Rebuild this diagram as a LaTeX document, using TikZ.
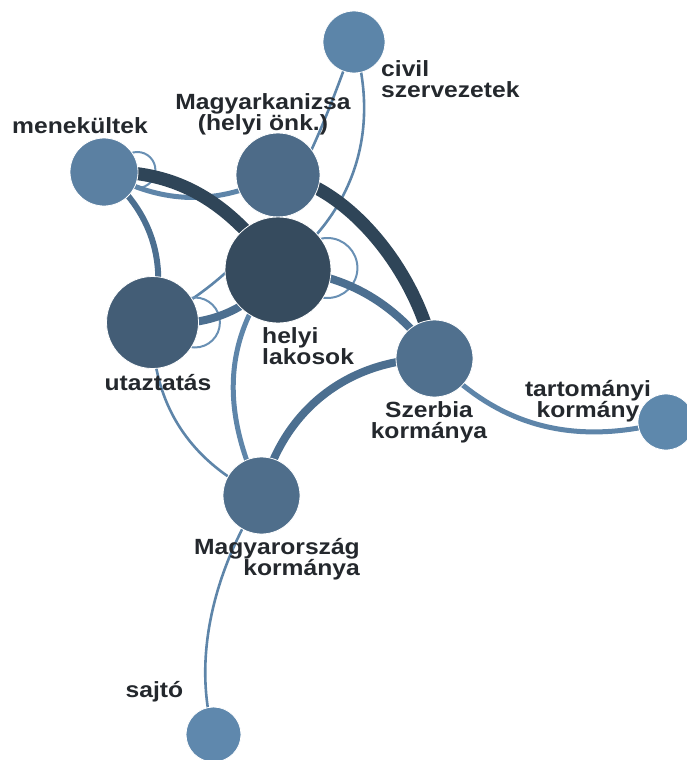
\documentclass[tikz,border=0pt]{standalone}
\usepackage{fontspec}
\setmainfont{Liberation Sans}[FakeStretch=1.12]
\usetikzlibrary{backgrounds}
\definecolor{edark}{HTML}{2F4558}
\definecolor{emed}{HTML}{4C6F90}
\definecolor{elight}{HTML}{5E85A9}
\definecolor{eloop}{HTML}{6990B4}
\definecolor{txt}{HTML}{24282D}
\definecolor{cHL}{HTML}{364B5E}
\definecolor{cUT}{HTML}{435D76}
\definecolor{cMK}{HTML}{4D6B88}
\definecolor{cSZ}{HTML}{50708E}
\definecolor{cMO}{HTML}{4F6E8B}
\definecolor{cME}{HTML}{5B80A2}
\definecolor{cCV}{HTML}{5C85A9}
\definecolor{cTK}{HTML}{5E88AC}
\definecolor{cSA}{HTML}{5F88AD}
\tikzset{
  nd/.style={circle, draw=white, line width=0.8pt, inner sep=0pt},
  lbl/.style={font=\fontsize{22}{21}\selectfont\bfseries, text=txt, inner sep=0pt},
  ethick/.style={draw=edark, line width=13pt},
  emedium/.style={draw=emed, line width=8pt},
  esix/.style={draw=emed, line width=6pt},
  efive/.style={draw=elight, line width=5pt},
  ethin/.style={draw=elight, line width=2.6pt},
  eloopline/.style={draw=eloop, line width=2pt},
}
\begin{document}
\begin{tikzpicture}[x=1pt,y=-1pt]
\useasboundingbox (0,0) rectangle (686,760);
% nodes
\node[nd, fill=cCV, minimum size=62pt] (cv) at (354,42) {};
\node[nd, fill=cMK, minimum size=84pt] (mk) at (278,175) {};
\node[nd, fill=cME, minimum size=68pt] (me) at (104,172) {};
\node[nd, fill=cHL, minimum size=106pt] (hl) at (278,270) {};
\node[nd, fill=cUT, minimum size=92pt] (ut) at (152.5,322.5) {};
\node[nd, fill=cSZ, minimum size=77pt] (sz) at (434.5,358.5) {};
\node[nd, fill=cTK, minimum size=56pt] (tk) at (666,422) {};
\node[nd, fill=cMO, minimum size=77pt] (mo) at (261.5,495.5) {};
\node[nd, fill=cSA, minimum size=55pt] (sa) at (213.5,734.5) {};
% edges
\begin{pgfonlayer}{background}
\draw[ethin] (cv.center) .. controls (381,132) and (353.5,214) .. (hl.center);
\draw[ethin] (cv.center) .. controls (308,169) and (272,261) .. (ut.center);
\draw[ethin] (ut.center) .. controls (150.9,402) and (188.4,461.4) .. (mo.center);
\draw[ethin] (mo.center) .. controls (220,560) and (190,650) .. (sa.center);
\draw[eloopline] ([shift={(-1,-2)}]me.east) circle[radius=18];
\draw[eloopline] ([shift={(-4,-2)}]hl.east) circle[radius=30];
\draw[eloopline] ([shift={(-4,0)}]ut.east) circle[radius=25];
\draw[efive] (me.center) .. controls (163.5,205) and (217.4,205.9) .. (mk.center);
\draw[efive] (hl.center) .. controls (220,340) and (222.6,415.3) .. (mo.center);
\draw[efive] (sz.center) .. controls (498,427) and (574,446) .. (tk.center);
\draw[esix] (me.center) .. controls (151.7,211) and (168.3,262.5) .. (ut.center);
\draw[emedium] (ut.center) .. controls (205,328) and (250,312) .. (hl.center);
\draw[emedium] (hl.center) .. controls (340,272) and (395,300) .. (sz.center);
\draw[emedium] (sz.center) .. controls (347.6,358.6) and (281.3,411) .. (mo.center);
\draw[ethick] (me.center) .. controls (182,170) and (232.6,206.6) .. (hl.center);
\draw[ethick] (mk.center) .. controls (345,184) and (418,270) .. (sz.center);
\end{pgfonlayer}
% labels (base anchor = baseline of the last line)
\node[lbl, anchor=base west, align=left] (lcv) at (381,97) {civil\\szervezetek};
\node[lbl, anchor=base, align=center] (lmk) at (263,130) {Magyarkanizsa\\(helyi önk.)};
\node[lbl, anchor=base] (lme) at (80,133) {menekültek};
\node[lbl, anchor=base west, align=left] (lhl) at (262,364) {helyi\\lakosok};
\node[lbl, anchor=base] (lut) at (158,390) {utaztatás};
\node[lbl, anchor=base, align=center] (lsz) at (429,438) {Szerbia\\kormánya};
\node[lbl, anchor=base, align=center] (ltk) at (588,417) {tartományi\\kormány};
\node[lbl, anchor=base east, align=right] (lmo) at (360,575) {Magyarország\\kormánya};
\node[lbl, anchor=base] (lsa) at (154.5,697) {sajtó};
\end{tikzpicture}
\end{document}
